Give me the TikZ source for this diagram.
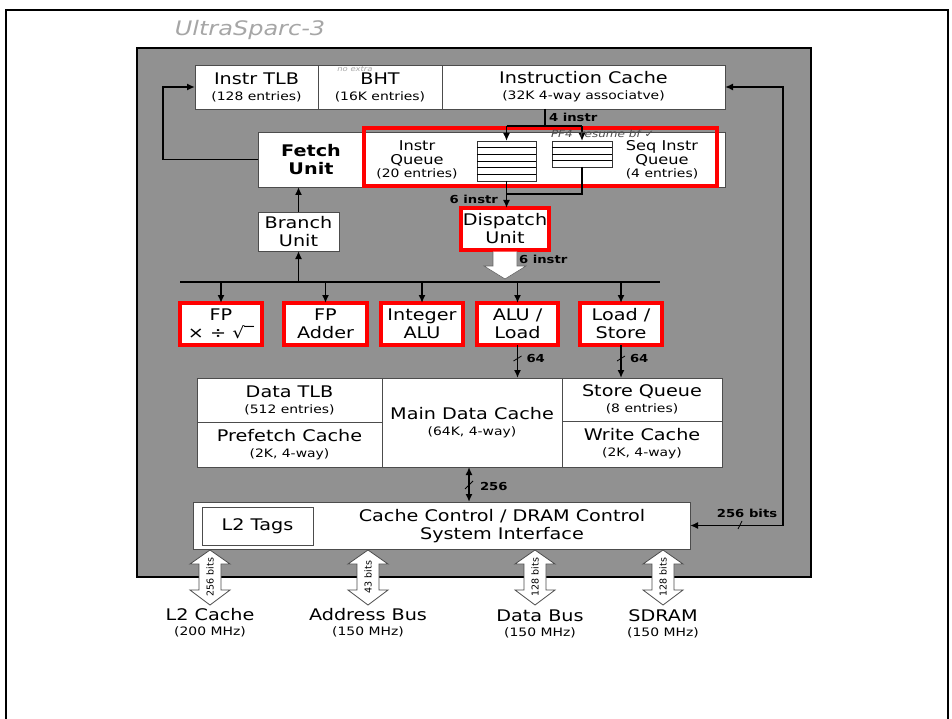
\documentclass[tikz,border=0pt]{standalone}
\usepackage{fontspec}
\setmainfont[FakeStretch=1.2]{DejaVu Sans}
\newfontfamily\nf{DejaVu Sans}
\usetikzlibrary{arrows.meta,calc}
\newcommand\Lsz{\fontsize{16}{18}\selectfont}
\newcommand\Msz{\fontsize{13.5}{13.5}\selectfont}
\newcommand\Ssz{\fontsize{11.6}{13.5}\selectfont}
\newcommand\Tsz{\fontsize{11}{13}\selectfont\bfseries}
\newcommand\busarrow[3]{%
  \draw[fill=white, draw=black!70, line width=0.8pt] (#2,550) -- (#2+20,564) -- (#2+11,564) -- (#2+11,590) -- (#2+20,590) -- (#2,605) -- (#2-20,590) -- (#2-11,590) -- (#2-11,564) -- (#2-20,564) -- cycle;
  \node[rotate=90, font=\nf\fontsize{9.5}{11}\selectfont] (#1) at (#2,577) {#3};}
\begin{document}
\begin{tikzpicture}[x=1pt,y=-1pt,
  every node/.style={inner sep=0pt,outer sep=0pt},
  box/.style={draw=black!70,line width=0.8pt,fill=white,align=center,font=\Lsz},
  rbox/.style={box,draw=red,line width=3.2pt},
  conn/.style={line width=1.6pt,-{Latex[length=8pt,width=7pt]}},
  dconn/.style={line width=1.6pt,{Latex[length=8pt,width=7pt]}-{Latex[length=8pt,width=7pt]}},
  wire/.style={line width=1.6pt},
  lbl/.style={font=\Tsz},
  tick/.style={line width=0.8pt},
  buf/.style={draw=black!80,fill=white,line width=0.8pt},
  hand/.style={text=black!45}]

\fill[white] (0,0) rectangle (952,719);
\useasboundingbox (0,0) rectangle (952,719);
\draw[line width=2pt] (6,10) rectangle (948,740);

% handwritten notes
\node[hand, font=\fontsize{20}{22}\selectfont\itshape, text=black!35] (hw1) at (250,30) {UltraSparc-3};

% grey panel
\node[draw=black, line width=1.5pt, fill=black!43, minimum width=674, minimum height=529] (panel) at (474,312.5) {};

% top row
\node[box, minimum width=123, minimum height=44] (itlb) at (256.5,87) {Instr TLB\\[-2pt]{\Ssz (128 entries)}};
\node[box, minimum width=124, minimum height=44] (bht) at (380,87) {BHT\\[-2pt]{\Ssz (16K entries)}};
\node[box, minimum width=283, minimum height=44] (icache) at (583.5,87) {Instruction Cache\\[-2pt]{\Ssz (32K 4-way associatve)}};
\node[hand, font=\fontsize{7}{8}\selectfont\itshape, text=black!35] (hw2) at (355,69) {no extra};

% fetch panel
\node[box, minimum width=467, minimum height=55] (fpanel) at (491.5,159.5) {};
\node[font=\Lsz\bfseries, align=center] (fetch) at (311,160) {Fetch\\Unit};
\node[draw=red, line width=3.2pt, minimum width=353, minimum height=58] (qframe) at (540.5,157) {};
\node[align=center, font=\Msz] (iqtxt) at (417,160) {Instr\\Queue\\{\Ssz (20 entries)}};
\node[align=center, font=\Msz] (sqtxt) at (662,160) {Seq Instr\\Queue\\{\Ssz (4 entries)}};
\node[buf, minimum width=59, minimum height=40] (iqbuf) at (506.5,161) {};
\foreach \i in {1,...,5} \draw[line width=0.6pt] ($(iqbuf.north west)+(0,\i*6.67)$) -- ($(iqbuf.north east)+(0,\i*6.67)$);
\node[buf, minimum width=60, minimum height=26] (sqbuf) at (582,154) {};
\foreach \i in {1,2,3} \draw[line width=0.6pt] ($(sqbuf.north west)+(0,\i*6.5)$) -- ($(sqbuf.north east)+(0,\i*6.5)$);

\coordinate (split) at (545,126);
\draw[wire] (icache.south -| split) -- (split);
\draw[wire] (iqbuf.north |- split) -- (sqbuf.north |- split);
\draw[conn] (iqbuf.north |- split) -- (iqbuf.north);
\draw[conn] (sqbuf.north |- split) -- (sqbuf.north);
\node[lbl, anchor=west] (l4) at (549,117) {4 instr};
\node[anchor=west, font=\fontsize{10}{11}\selectfont\itshape, text=black!70] (hw3) at (551,134) {PF4\hspace{7pt}resume bf ✓};

% dispatch
\node[rbox, minimum width=88, minimum height=42] (dispatch) at (505,229) {Dispatch\\Unit};
\coordinate (merge) at (506.5,194);
\draw[wire] (sqbuf.south) |- (merge);
\draw[conn] (iqbuf.south) -- (iqbuf.south |- dispatch.north);
\node[lbl, anchor=east] (l6a) at (498,199) {6 instr};

% branch
\node[box, minimum width=81, minimum height=39] (branch) at (298.5,231.5) {Branch\\Unit};
\draw[conn] (branch.north) -- (branch.north |- fpanel.south);

% bus
\coordinate (busL) at (180,282);
\coordinate (busR) at (660,282);
\draw[line width=2.2pt] (busL) -- (busR);
\draw[conn] (branch.south |- busL) -- (branch.south);

% dispatch block arrow
\draw[fill=white, draw=black!60, line width=0.6pt] ($(dispatch.south)+(-12,1.6)$) -- ($(dispatch.south)+(-12,16)$) -- ($(dispatch.south)+(-21,16)$) -- ($(dispatch.south)+(0,29)$) -- ($(dispatch.south)+(21,16)$) -- ($(dispatch.south)+(12,16)$) -- ($(dispatch.south)+(12,1.6)$);
\node[lbl, anchor=west] (l6b) at (519,259) {6 instr};

% execution units
\node[rbox, minimum width=82, minimum height=42] (fpm) at (221,324) {FP\\× ÷ √‾};
\node[rbox, minimum width=83, minimum height=42] (fpa) at (325.5,324) {FP\\Adder};
\node[rbox, minimum width=82, minimum height=42] (ialu) at (422,324) {Integer\\ALU};
\node[rbox, minimum width=81, minimum height=42] (alul) at (517.5,324) {ALU /\\Load};
\node[rbox, minimum width=82, minimum height=42] (lds) at (621,324) {Load /\\Store};
\foreach \n in {fpm,fpa,ialu,alul,lds} \draw[conn] (\n.north |- busL) -- (\n.north);

% data block
\node[box, minimum width=185, minimum height=44] (dtlb) at (289.5,400) {Data TLB\\[-2pt]{\Ssz (512 entries)}};
\node[box, minimum width=185, minimum height=45] (pfc) at (289.5,444.5) {Prefetch Cache\\[-2pt]{\Ssz (2K, 4-way)}};
\node[box, minimum width=180, minimum height=89] (mdc) at (472,422.5) {Main Data Cache\\[-2pt]{\Ssz (64K, 4-way)}};
\node[box, minimum width=160, minimum height=43] (stq) at (642,399.5) {Store Queue\\[-2pt]{\Ssz (8 entries)}};
\node[box, minimum width=160, minimum height=46] (wc) at (642,444) {Write Cache\\[-2pt]{\Ssz (2K, 4-way)}};

\draw[conn] (alul.south) -- (alul.south |- mdc.north);
\draw[conn] (lds.south) -- (lds.south |- stq.north);
\draw[tick] ($(alul.south)+(-4,16)$) -- ($(alul.south)+(4,11)$);
\draw[tick] ($(lds.south)+(-4,16)$) -- ($(lds.south)+(4,11)$);
\node[lbl, anchor=west] (l64a) at ($(alul.south)+(9,13)$) {64};
\node[lbl, anchor=west] (l64b) at ($(lds.south)+(9,13)$) {64};

% cache control
\node[box, minimum width=497, minimum height=47] (cc) at (441.5,525.5) {};
\node[font=\Lsz, align=center] (cctxt) at (502,526) {Cache Control / DRAM Control\\System Interface};
\node[box, minimum width=111, minimum height=38] (l2t) at (257.5,526) {L2 Tags};

\coordinate (dv) at (469,485);
\draw[dconn] (mdc.south -| dv) -- (cc.north -| dv);
\draw[tick] (465,489) -- (473,481);
\node[lbl, anchor=west] (l256) at (480,486) {256};

% right loop
\coordinate (rl) at (783,300);
\draw[dconn] (icache.east) -| (rl) |- (cc.east);
\node[lbl] (l256b) at (747,513) {256 bits};
\draw[tick] (738,529) -- (742,521);

% left loop
\coordinate (ll) at (163,120);
\draw[conn] (fpanel.west) -| (ll) |- (itlb.west);

% external buses
\busarrow{a1}{210}{256 bits}
\busarrow{a2}{368}{43 bits}
\busarrow{a3}{535}{128 bits}
\busarrow{a4}{663}{128 bits}
\node[font=\Lsz, align=center] (l2lbl) at (210,623) {L2 Cache\\[-3pt]{\Ssz (200 MHz)}};
\node[font=\Lsz, align=center] (ablbl) at (368,623) {Address Bus\\[-3pt]{\Ssz (150 MHz)}};
\node[font=\Lsz, align=center] (dblbl) at (540,624) {Data Bus\\[-3pt]{\Ssz (150 MHz)}};
\node[font=\Lsz, align=center] (sdlbl) at (663,624) {SDRAM\\[-3pt]{\Ssz (150 MHz)}};
\end{tikzpicture}
\end{document}
